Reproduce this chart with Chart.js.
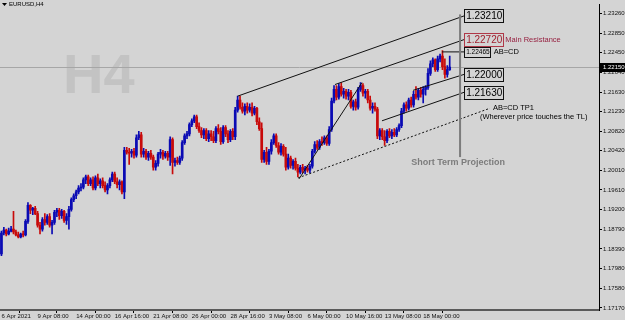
<!DOCTYPE html>
<html>
<head>
<meta charset="utf-8">
<script src="https://cdn.jsdelivr.net/npm/chart.js@4.4.1/dist/chart.umd.min.js"></script>
<style>
  html, body { margin: 0; padding: 0; background: #d4d4d4; }
  #wrap { position: relative; width: 625px; height: 320px; }
</style>
</head>
<body>
<div id="wrap"><canvas id="chart" width="625" height="320"></canvas></div>
<script>
// EURUSD H4 candles (one entry per bar)
const opens = [
  1.1829,1.1872,1.1878,1.1870,1.1876,1.1880,1.1874,1.1868,1.1864,1.1870,
  1.1868,1.1896,1.1929,1.1919,1.1923,1.1912,1.1888,1.1880,1.1900,1.1894,
  1.1906,1.1888,1.1894,1.1915,1.1919,1.1908,1.1917,1.1898,1.1906,1.1921,
  1.1941,1.1949,1.1957,1.1965,1.1967,1.1982,1.1988,1.1974,1.1982,1.1965,
  1.1986,1.1974,1.1980,1.1970,1.1961,1.1970,1.1982,1.1994,1.1978,1.1972,
  1.1978,1.1957,1.2043,1.2039,1.2037,1.2041,1.2033,1.2069,1.2075,1.2035,
  1.2041,1.2029,1.2037,1.2029,1.2008,1.2016,1.2035,1.2039,1.2031,1.2037,
  1.2029,1.2065,1.2018,1.2022,1.2018,1.2027,1.2059,1.2073,1.2077,1.2096,
  1.2104,1.2112,1.2092,1.2084,1.2075,1.2084,1.2067,1.2077,1.2071,1.2063,
  1.2088,1.2082,1.2061,1.2090,1.2077,1.2065,1.2082,1.2071,1.2126,1.2147,
  1.2132,1.2124,1.2134,1.2126,1.2132,1.2120,1.2130,1.2102,1.2088,1.2024,
  1.2039,1.2020,1.2041,1.2059,1.2073,1.2053,1.2039,1.2051,1.2035,1.2008,
  1.2027,1.2012,1.2020,1.2006,1.1998,1.2008,1.2002,1.2006,1.2002,1.2010,
  1.2041,1.2055,1.2049,1.2061,1.2059,1.2069,1.2057,1.2086,1.2145,1.2169,
  1.2153,1.2175,1.2159,1.2165,1.2155,1.2163,1.2134,1.2143,1.2132,1.2169,
  1.2177,1.2161,1.2165,1.2147,1.2130,1.2134,1.2128,1.2073,1.2084,1.2071,
  1.2063,1.2082,1.2073,1.2080,1.2075,1.2086,1.2094,1.2124,1.2137,1.2130,
  1.2147,1.2137,1.2159,1.2153,1.2167,1.2159,1.2169,1.2173,1.2202,1.2222,
  1.2230,1.2210,1.2232,1.2238,1.2216,1.2200,1.2210
];
const highs = [
  1.1876,1.1884,1.1880,1.1882,1.1886,1.1917,1.1878,1.1874,1.1872,1.1876,
  1.1900,1.1935,1.1931,1.1925,1.1927,1.1917,1.1894,1.1904,1.1912,1.1910,
  1.1912,1.1898,1.1919,1.1923,1.1923,1.1921,1.1919,1.1912,1.1927,1.1945,
  1.1953,1.1961,1.1970,1.1974,1.1986,1.1992,1.1992,1.1986,1.1988,1.1990,
  1.1994,1.1984,1.1986,1.1978,1.1974,1.1986,1.1998,1.1998,1.1986,1.1982,
  1.1980,1.2049,1.2049,1.2047,1.2045,1.2047,1.2075,1.2082,1.2080,1.2047,
  1.2045,1.2041,1.2043,1.2033,1.2022,1.2039,1.2045,1.2043,1.2041,1.2041,
  1.2071,1.2069,1.2027,1.2029,1.2031,1.2063,1.2077,1.2082,1.2100,1.2108,
  1.2116,1.2116,1.2100,1.2090,1.2088,1.2088,1.2084,1.2084,1.2082,1.2092,
  1.2096,1.2090,1.2094,1.2094,1.2084,1.2086,1.2088,1.2132,1.2155,1.2155,
  1.2141,1.2139,1.2141,1.2139,1.2141,1.2134,1.2132,1.2110,1.2100,1.2043,
  1.2049,1.2045,1.2065,1.2077,1.2077,1.2059,1.2057,1.2055,1.2049,1.2035,
  1.2031,1.2024,1.2027,1.2014,1.2012,1.2014,1.2010,1.2012,1.2014,1.2045,
  1.2061,1.2063,1.2065,1.2071,1.2073,1.2073,1.2092,1.2151,1.2177,1.2177,
  1.2181,1.2183,1.2171,1.2169,1.2169,1.2167,1.2147,1.2149,1.2173,1.2183,
  1.2181,1.2169,1.2169,1.2155,1.2141,1.2141,1.2132,1.2088,1.2088,1.2084,
  1.2086,1.2088,1.2086,1.2088,1.2090,1.2098,1.2130,1.2141,1.2143,1.2151,
  1.2153,1.2165,1.2175,1.2171,1.2173,1.2175,1.2177,1.2212,1.2228,1.2234,
  1.2232,1.2238,1.2242,1.2249,1.2232,1.2218,1.2238
];
const lows = [
  1.1825,1.1868,1.1866,1.1868,1.1874,1.1870,1.1866,1.1862,1.1862,1.1864,
  1.1866,1.1892,1.1912,1.1910,1.1910,1.1884,1.1870,1.1876,1.1888,1.1890,
  1.1884,1.1870,1.1890,1.1906,1.1900,1.1902,1.1894,1.1890,1.1880,1.1917,
  1.1937,1.1943,1.1953,1.1959,1.1963,1.1974,1.1970,1.1970,1.1961,1.1961,
  1.1970,1.1965,1.1965,1.1957,1.1953,1.1965,1.1978,1.1974,1.1965,1.1961,
  1.1953,1.1943,1.2035,1.2014,1.2029,1.2027,1.2029,1.2065,1.2029,1.2029,
  1.2024,1.2022,1.2024,1.2002,1.2002,1.2010,1.2027,1.2024,1.2027,1.2022,
  1.2012,1.1994,1.2010,1.2014,1.2014,1.2022,1.2055,1.2067,1.2073,1.2092,
  1.2100,1.2088,1.2080,1.2069,1.2067,1.2063,1.2061,1.2063,1.2059,1.2059,
  1.2077,1.2055,1.2057,1.2071,1.2059,1.2061,1.2065,1.2065,1.2122,1.2128,
  1.2120,1.2116,1.2120,1.2122,1.2114,1.2116,1.2096,1.2084,1.2018,1.2018,
  1.2014,1.2014,1.2035,1.2055,1.2049,1.2035,1.2033,1.2031,1.2002,1.2004,
  1.2006,1.2004,1.2002,1.1988,1.1994,1.1996,1.1994,1.1998,1.1996,1.2006,
  1.2037,1.2045,1.2045,1.2053,1.2055,1.2053,1.2053,1.2082,1.2141,1.2147,
  1.2149,1.2155,1.2151,1.2149,1.2147,1.2130,1.2126,1.2126,1.2128,1.2165,
  1.2155,1.2151,1.2141,1.2126,1.2120,1.2124,1.2067,1.2065,1.2065,1.2053,
  1.2059,1.2069,1.2067,1.2071,1.2071,1.2082,1.2090,1.2120,1.2124,1.2126,
  1.2132,1.2132,1.2149,1.2147,1.2153,1.2141,1.2157,1.2169,1.2198,1.2216,
  1.2206,1.2206,1.2226,1.2210,1.2192,1.2194,1.2208
];
const closes = [
  1.1872,1.1878,1.1870,1.1876,1.1880,1.1874,1.1868,1.1864,1.1870,1.1868,
  1.1896,1.1929,1.1919,1.1923,1.1912,1.1888,1.1880,1.1900,1.1894,1.1906,
  1.1888,1.1894,1.1915,1.1919,1.1908,1.1917,1.1898,1.1906,1.1921,1.1941,
  1.1949,1.1957,1.1965,1.1967,1.1982,1.1988,1.1974,1.1982,1.1965,1.1986,
  1.1974,1.1980,1.1970,1.1961,1.1970,1.1982,1.1994,1.1978,1.1972,1.1978,
  1.1957,1.2043,1.2039,1.2037,1.2041,1.2033,1.2069,1.2075,1.2035,1.2041,
  1.2029,1.2037,1.2029,1.2008,1.2016,1.2035,1.2039,1.2031,1.2037,1.2029,
  1.2065,1.2018,1.2022,1.2018,1.2027,1.2059,1.2073,1.2077,1.2096,1.2104,
  1.2112,1.2092,1.2084,1.2075,1.2084,1.2067,1.2077,1.2071,1.2063,1.2088,
  1.2082,1.2061,1.2090,1.2077,1.2065,1.2082,1.2071,1.2126,1.2147,1.2132,
  1.2124,1.2134,1.2126,1.2132,1.2120,1.2130,1.2102,1.2088,1.2024,1.2039,
  1.2020,1.2041,1.2059,1.2073,1.2053,1.2039,1.2051,1.2035,1.2008,1.2027,
  1.2012,1.2020,1.2006,1.1998,1.2008,1.2002,1.2006,1.2002,1.2010,1.2041,
  1.2055,1.2049,1.2061,1.2059,1.2069,1.2057,1.2086,1.2145,1.2169,1.2153,
  1.2175,1.2159,1.2165,1.2155,1.2163,1.2134,1.2143,1.2132,1.2169,1.2177,
  1.2161,1.2165,1.2147,1.2130,1.2134,1.2128,1.2073,1.2084,1.2071,1.2063,
  1.2082,1.2073,1.2080,1.2075,1.2086,1.2094,1.2124,1.2137,1.2130,1.2147,
  1.2137,1.2159,1.2153,1.2167,1.2159,1.2169,1.2173,1.2202,1.2222,1.2230,
  1.2210,1.2232,1.2238,1.2216,1.2200,1.2210,1.2215
];

// time axis labels (bar index -> label)
const xTickIdx = [1, 16, 32, 48, 64, 80, 96, 112, 128, 144, 160, 176];
const xTickLabels = [
  "6 Apr 2021", "9 Apr 08:00", "14 Apr 00:00", "16 Apr 16:00", "21 Apr 08:00",
  "26 Apr 00:00", "28 Apr 16:00", "3 May 08:00", "6 May 00:00", "10 May 16:00",
  "13 May 08:00", "18 May 00:00"
];
// price axis labels
const yTickValues = [
  1.23260, 1.22850, 1.22450, 1.22040, 1.21630, 1.21230, 1.20820, 1.20420,
  1.20010, 1.19610, 1.19200, 1.18790, 1.18390, 1.17980, 1.17580, 1.17170
];

// hand-drawn objects, in (bar index, price)
const trendLines = [
  { from: [99, 1.2155], to: [193, 1.2321] },
  { from: [139.4, 1.2179], to: [193, 1.2272] },
  { from: [124.5, 1.1984], to: [150.6, 1.2183] },
  { from: [158.9, 1.2104], to: [193, 1.2163] },
  { from: [171.8, 1.2167], to: [193, 1.2200] },
  { from: [183.8, 1.22465], to: [193, 1.22465] }
];
const tpLine = { from: [124.1, 1.1986], to: [203.7, 1.2130] };
const projection = { idx: 191.3, top: 1.2324, bottom: 1.2029 };
const levelBoxes = [1.23210, 1.22720, 1.22000, 1.21630];
const abcdLevel = 1.22465;

const X_MIN = 0.4, X_MAX = 248.95;
const Y_MIN = 1.17128, Y_MAX = 1.23443;

const BG = "#d4d4d4";
const BULL = "#0a0ab4";
const BEAR = "#c80a0a";
const FONT = "'Liberation Sans', Arial, sans-serif";

const barIdx = closes.map((_, k) => k + 1);
const candleColors = closes.map((c, k) => (c >= opens[k] ? BULL : BEAR));

function box(ctx, text, left, cy, size, stroke, color) {
  ctx.font = size + "px " + FONT;
  const w = ctx.measureText(text).width;
  const h = size + 3;
  ctx.fillStyle = BG;
  ctx.fillRect(left, cy - h / 2, w + 4, h);
  ctx.strokeStyle = stroke;
  ctx.lineWidth = 1;
  ctx.strokeRect(Math.round(left) + 0.5, Math.round(cy - h / 2) + 0.5, Math.round(w + 3), Math.round(h));
  ctx.fillStyle = color;
  ctx.textBaseline = "middle";
  ctx.textAlign = "left";
  ctx.fillText(text, left + 2, cy + 0.5);
  return left + w + 4;
}

const overlay = {
  id: "overlay",
  beforeDraw(chart) {
    const ctx = chart.ctx;
    ctx.save();
    ctx.fillStyle = BG;
    ctx.fillRect(0, 0, chart.width, chart.height);
    ctx.restore();
  },
  beforeDatasetsDraw(chart) {
    const { ctx, chartArea, scales } = chart;
    ctx.save();
    // watermark
    ctx.fillStyle = "#c3c3c3";
    ctx.font = "bold 56px " + FONT;
    ctx.textBaseline = "alphabetic";
    ctx.textAlign = "left";
    ctx.fillText("H4", 63, 93);
    // symbol caption
    ctx.fillStyle = "#000";
    ctx.beginPath();
    ctx.moveTo(2, 3); ctx.lineTo(7, 3); ctx.lineTo(4.5, 6); ctx.closePath();
    ctx.fill();
    ctx.font = "6px " + FONT;
    ctx.textBaseline = "middle";
    ctx.fillText("EURUSD,H4", 9, 4.5);
    // bid line
    const yb = Math.round(scales.y.getPixelForValue(closes[closes.length - 1])) + 0.5;
    ctx.strokeStyle = "#a6a6a6";
    ctx.lineWidth = 1;
    ctx.beginPath();
    ctx.moveTo(chartArea.left, yb);
    ctx.lineTo(chartArea.right, yb);
    ctx.stroke();
    ctx.restore();
  },
  afterDatasetsDraw(chart) {
    const { ctx, scales } = chart;
    const px = v => scales.x.getPixelForValue(v);
    const py = v => scales.y.getPixelForValue(v);
    ctx.save();
    ctx.strokeStyle = "#111";
    ctx.lineWidth = 1;
    trendLines.forEach(l => {
      ctx.beginPath();
      ctx.moveTo(px(l.from[0]), py(l.from[1]));
      ctx.lineTo(px(l.to[0]), py(l.to[1]));
      ctx.stroke();
    });
    ctx.setLineDash([2, 2]);
    ctx.beginPath();
    ctx.moveTo(px(tpLine.from[0]), py(tpLine.from[1]));
    ctx.lineTo(px(tpLine.to[0]), py(tpLine.to[1]));
    ctx.stroke();
    ctx.setLineDash([]);

    // projection line
    const xp = px(projection.idx);
    ctx.strokeStyle = "#7c7c7c";
    ctx.lineWidth = 2;
    ctx.beginPath();
    ctx.moveTo(xp, py(projection.top));
    ctx.lineTo(xp, py(projection.bottom));
    ctx.stroke();
    ctx.fillStyle = "#7c7c7c";
    ctx.font = "bold 9px " + FONT;
    ctx.textAlign = "center";
    ctx.textBaseline = "middle";
    ctx.fillText("Short Term Projection", xp - 2, py(projection.bottom) + 5);

    // level boxes
    const bx = px(193);
    levelBoxes.forEach((v, k) => {
      const red = k === 1;
      const right = box(ctx, v.toFixed(5), bx, py(v), 10, red ? "#b03848" : "#111", red ? "#a0202e" : "#000");
      if (red) {
        ctx.fillStyle = "#962040";
        ctx.font = "7.5px " + FONT;
        ctx.textAlign = "left";
        ctx.fillText("Main Resistance", right + 1, py(v) + 0.5);
      }
    });
    const r2 = box(ctx, abcdLevel.toFixed(5), bx, py(abcdLevel), 6.5, "#111", "#000");
    ctx.fillStyle = "#000";
    ctx.font = "7.5px " + FONT;
    ctx.textAlign = "left";
    ctx.fillText("AB=CD", r2 + 2, py(abcdLevel) + 0.5);

    const ex = px(tpLine.to[0]), ey = py(tpLine.to[1]);
    ctx.fillText("AB=CD TP1", ex + 3, ey);
    ctx.fillText("(Wherever price touches the TL)", ex - 10, ey + 9);
    ctx.restore();
  },
  afterDraw(chart) {
    const { ctx, chartArea, scales } = chart;
    const last = closes[closes.length - 1];
    const y = scales.y.getPixelForValue(last);
    ctx.save();
    ctx.fillStyle = "#000";
    ctx.fillRect(chartArea.right, Math.round(y) - 4, chart.width - chartArea.right, 9);
    ctx.fillStyle = "#fff";
    ctx.font = "6px " + FONT;
    ctx.textBaseline = "middle";
    ctx.textAlign = "left";
    ctx.fillText(last.toFixed(5), chartArea.right + 4, Math.round(y) + 0.5);
    ctx.restore();
  }
};

new Chart(document.getElementById("chart"), {
  type: "bar",
  data: {
    datasets: [
      {
        label: "wick",
        data: barIdx.map((x, k) => ({ x, y: [lows[k], highs[k]] })),
        backgroundColor: candleColors,
        barThickness: 1,
        grouped: false,
        order: 2
      },
      {
        label: "body",
        data: barIdx.map((x, k) => ({ x, y: [opens[k], closes[k]] })),
        backgroundColor: candleColors,
        barThickness: 2,
        minBarLength: 1,
        grouped: false,
        order: 1
      }
    ]
  },
  options: {
    responsive: false,
    animation: false,
    events: [],
    layout: { padding: 0 },
    plugins: { legend: { display: false }, tooltip: { enabled: false } },
    scales: {
      x: {
        type: "linear",
        min: X_MIN,
        max: X_MAX,
        offset: false,
        grid: { drawOnChartArea: false, drawTicks: true, tickLength: 3, color: "#000" },
        border: { display: true, color: "#5a5a5a", width: 2 },
        ticks: {
          autoSkip: false,
          maxRotation: 0,
          align: "start",
          padding: 0,
          color: "#111",
          font: { family: FONT, size: 6 },
          callback: v => {
            const k = xTickIdx.indexOf(v);
            return k >= 0 ? xTickLabels[k] : "";
          }
        },
        afterBuildTicks: s => { s.ticks = xTickIdx.map(v => ({ value: v })); },
        afterFit: s => { s.height = 10; }
      },
      y: {
        type: "linear",
        position: "right",
        min: Y_MIN,
        max: Y_MAX,
        grid: { drawOnChartArea: false, drawTicks: true, tickLength: 3, color: "#000" },
        border: { display: true, color: "#000", width: 1 },
        ticks: {
          padding: 1,
          color: "#111",
          font: { family: FONT, size: 6 },
          callback: v => Number(v).toFixed(5)
        },
        afterBuildTicks: s => { s.ticks = yTickValues.map(v => ({ value: v })); },
        afterFit: s => { s.width = 26; }
      }
    }
  },
  plugins: [overlay]
});
</script>
</body>
</html>
